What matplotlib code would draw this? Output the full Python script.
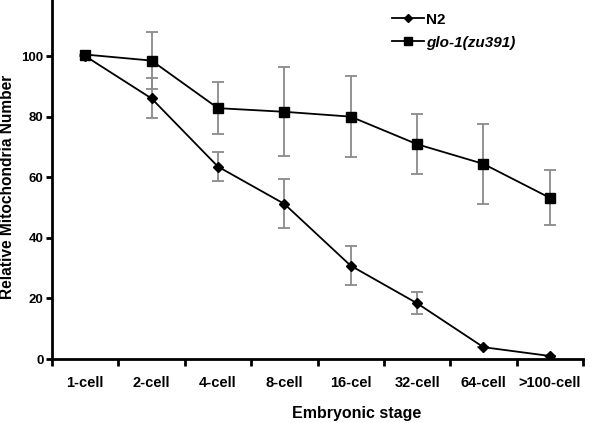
import matplotlib
matplotlib.use("Agg")
import matplotlib.pyplot as plt
import numpy as np

stages = ["1-cell", "2-cell", "4-cell", "8-cell", "16-cel", "32-cell", "64-cell", ">100-cell"]
n2_mean = [100.0, 86.0, 63.5, 51.2, 30.8, 18.4, 3.9, 1.0]
n2_err = [0.0, 6.6, 4.8, 8.1, 6.5, 3.7, 0.0, 0.0]
glo_mean = [100.5, 98.5, 82.8, 81.6, 80.0, 70.9, 64.4, 53.2]
glo_err = [0.0, 9.5, 8.5, 14.7, 13.3, 9.9, 13.2, 9.1]

plt.rcParams['font.family'] = ['Liberation Sans', 'DejaVu Sans']
fig = plt.figure(figsize=(6.0, 4.23), dpi=100)
ax = fig.add_axes([52/600, 1-359/423, (583-52)/600, 359/423])

x = np.arange(len(stages))
ecol = '#8a8a8a'
ax.errorbar(x, glo_mean, yerr=glo_err, fmt='none', ecolor=ecol, elinewidth=1.3, capsize=4, capthick=1.3, zorder=2)
ax.errorbar(x, n2_mean, yerr=n2_err, fmt='none', ecolor=ecol, elinewidth=1.3, capsize=4, capthick=1.3, zorder=2)
ax.plot(x, n2_mean, color='black', lw=1.3, marker='D', ms=4.8, label='N2', zorder=3)
ax.plot(x, glo_mean, color='black', lw=1.3, marker='s', ms=7, label='glo-1(zu391)', zorder=3)

ax.set_xlim(-0.5, 7.5)
ax.set_ylim(0, 118.5)
ax.set_yticks([0, 20, 40, 60, 80, 100])
ax.set_xticks(x)
ax.set_xticklabels(stages, fontweight='bold', fontsize=10.5)
ax.set_xticks(np.arange(-0.5, 8.0, 1.0), minor=True)
ax.tick_params(axis='x', which='major', length=0, pad=12)
ax.tick_params(axis='x', which='minor', length=5, width=2, direction='out')
ax.tick_params(axis='y', length=4, width=2, labelsize=9.5, pad=2)
for lab in ax.get_yticklabels():
    lab.set_fontweight('bold')

for s in ['top', 'right']:
    ax.spines[s].set_visible(False)
for s in ['left', 'bottom']:
    ax.spines[s].set_linewidth(2)

fig.text(8/600, 1-187/423, 'Relative Mitochondria Number', rotation=90, ha='center', va='center',
         fontsize=11.2, fontweight='bold')
fig.text(357/600, 1-413/423, 'Embryonic stage', ha='center', va='center', fontsize=11.5, fontweight='bold')

leg = ax.legend(loc='upper left', bbox_to_anchor=(384/600, 1-5/423), bbox_transform=fig.transFigure,
                frameon=False, handlelength=2.1, labelspacing=0.6, handletextpad=0.15, markerscale=0.85,
                prop={'weight': 'bold', 'size': 11}, borderpad=0)
leg.get_texts()[1].set_style('italic')

fig.savefig('out.png', dpi=100)
